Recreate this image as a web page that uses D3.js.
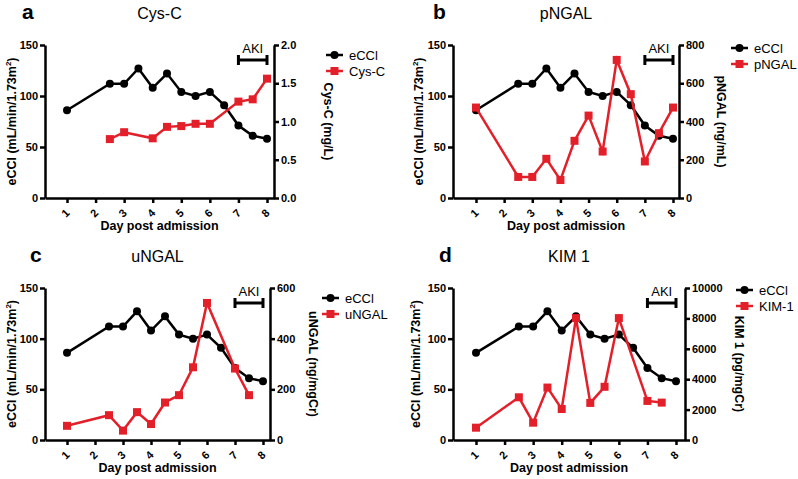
<!DOCTYPE html>
<html>
<head>
<meta charset="utf-8">
<script src="https://cdn.jsdelivr.net/npm/d3@7"></script>
<style>
  body { margin: 0; background: #fff; }
  svg { font-family: "Liberation Sans", Arial, sans-serif; }
  .axis path, .axis line { stroke: #000; stroke-width: 2.5; }
  .axis text { font-size: 11px; font-weight: bold; fill: #000; }
</style>
</head>
<body>
<div id="chart"></div>
<script>
// DATA

var ecclDays = [1, 2.5, 3, 3.5, 4, 4.5, 5, 5.5, 6, 6.5, 7, 7.5, 8]
var ecclValues = [86, 112, 112, 127, 108, 122, 104, 100, 104, 91, 71, 61, 58]

var cysDays = [2.5, 3, 4, 4.5, 5, 5.5, 6, 7, 7.5, 8]
var cysValues = [0.77, 0.86, 0.78, 0.93, 0.94, 0.97, 0.97, 1.26, 1.29, 1.56]

var pngalDays = [1, 2.5, 3, 3.5, 4, 4.5, 5, 5.5, 6, 6.5, 7, 7.5, 8]
var pngalValues = [473, 110, 110, 205, 94, 299, 431, 243, 722, 543, 191, 339, 473]

var ungalDays = [1, 2.5, 3, 3.5, 4, 4.5, 5, 5.5, 6, 7, 7.5]
var ungalValues = [56, 98, 37, 110, 63, 148, 177, 287, 541, 282, 177]

var kimDays = [1, 2.5, 3, 3.5, 4, 4.5, 5, 5.5, 6, 7, 7.5]
var kimValues = [810, 2810, 1140, 3450, 2040, 8020, 2440, 3500, 8020, 2570, 2460]

var dayTicks = [1, 2, 3, 4, 5, 6, 7, 8]
var ecclTicks = [0, 50, 100, 150]
var akiRange = [7, 8]

var panels = [
    {letter: "a", title: "Cys-C", name: "Cys-C", label: "Cys-C (mg/L)",
     days: cysDays, values: cysValues, max: 2, ticks: [0, 0.5, 1, 1.5, 2], fmt: ".1f",
     left: 45, right: 274, d1: 67, d8: 267, top: 45, bottom: 198,
     letterX: 22, rLabelX: 324, lLabelX: 16, legX: 326, legY: 55},
    {letter: "b", title: "pNGAL", name: "pNGAL", label: "pNGAL (ng/mL)",
     days: pngalDays, values: pngalValues, max: 800, ticks: [0, 200, 400, 600, 800], fmt: "d",
     left: 453, right: 679, d1: 476, d8: 673, top: 45, bottom: 198,
     letterX: 433, rLabelX: 717, lLabelX: 423, legX: 731, legY: 48},
    {letter: "c", title: "uNGAL", name: "uNGAL", label: "uNGAL (ng/mgCr)",
     days: ungalDays, values: ungalValues, max: 600, ticks: [0, 200, 400, 600], fmt: "d",
     left: 45, right: 270, d1: 67, d8: 263, top: 288, bottom: 440,
     letterX: 30, rLabelX: 309, lLabelX: 16, legX: 322, legY: 298},
    {letter: "d", title: "KIM 1", name: "KIM-1", label: "KIM 1 (pg/mgCr)",
     days: kimDays, values: kimValues, max: 10000, ticks: [0, 2000, 4000, 6000, 8000, 10000], fmt: "d",
     left: 453, right: 685, d1: 476, d8: 676, top: 288, bottom: 440,
     letterX: 439, rLabelX: 735, lLabelX: 420, legX: 736, legY: 290}
]

var red = "#e3202a"

var svg = d3.select("#chart").append("svg")
    .attr("width", 798)
    .attr("height", 479)

panels.forEach(p => {
    var g = svg.append("g")

    // x scale: days 1 and 8 fall at d1 / d8, axis runs from left to right
    var perDay = (p.d8 - p.d1) / 7
    var xScale = d3.scaleLinear()
        .domain([1 - (p.d1 - p.left) / perDay, 8 + (p.right - p.d8) / perDay])
        .range([p.left, p.right])
    var yLeft = d3.scaleLinear().domain([0, 150]).range([p.bottom, p.top])
    var yRight = d3.scaleLinear().domain([0, p.max]).range([p.bottom, p.top])

    var xAxis = g.append("g")
        .attr("class", "axis")
        .attr("transform", `translate(0,${p.bottom})`)
        .call(d3.axisBottom(xScale).tickValues(dayTicks).tickSize(5).tickSizeOuter(0))
    xAxis.selectAll("text")
        .attr("x", 0).attr("y", 0)
        .attr("dy", "0.35em")
        .attr("text-anchor", "middle")
        .attr("transform", "translate(-2,15) rotate(-45)")

    g.append("g")
        .attr("class", "axis")
        .attr("transform", `translate(${p.left},0)`)
        .call(d3.axisLeft(yLeft).tickValues(ecclTicks).tickSize(5).tickSizeOuter(0).tickPadding(2))

    g.append("g")
        .attr("class", "axis")
        .attr("transform", `translate(${p.right},0)`)
        .call(d3.axisRight(yRight).tickValues(p.ticks).tickFormat(d3.format(p.fmt)).tickSize(5).tickSizeOuter(0).tickPadding(2))

    // titles and labels
    g.append("text")
        .attr("x", p.letterX).attr("y", p.top - 26)
        .style("font-size", "21px").style("font-weight", "bold")
        .text(p.letter)

    g.append("text")
        .attr("x", (p.left + p.right) / 2).attr("y", p.top - 26)
        .attr("text-anchor", "middle")
        .style("font-size", "16px")
        .text(p.title)

    g.append("text")
        .attr("x", (p.left + p.right) / 2).attr("y", p.bottom + 32)
        .attr("text-anchor", "middle")
        .style("font-size", "12.5px").style("font-weight", "bold")
        .text("Day post admission")

    var yl = g.append("text")
        .attr("transform", `translate(${p.lLabelX},${(p.top + p.bottom) / 2}) rotate(-90)`)
        .attr("text-anchor", "middle")
        .style("font-size", "12.5px").style("font-weight", "bold")
    yl.append("tspan").text("eCCl (mL/min/1.73m")
    yl.append("tspan").attr("dy", -5).style("font-size", "8px").text("2")
    yl.append("tspan").attr("dy", 5).text(")")

    g.append("text")
        .attr("transform", `translate(${p.rLabelX},${(p.top + p.bottom) / 2}) rotate(90)`)
        .attr("text-anchor", "middle")
        .style("font-size", "12.5px").style("font-weight", "bold")
        .text(p.label)

    // AKI bar
    var akiY = p.top + 15
    var ax0 = xScale(akiRange[0]), ax1 = xScale(akiRange[1])
    g.append("line").attr("x1", ax0).attr("x2", ax1).attr("y1", akiY).attr("y2", akiY)
        .attr("stroke", "#000").attr("stroke-width", 3)
    ;[ax0, ax1].forEach(x => {
        g.append("line").attr("x1", x).attr("x2", x).attr("y1", akiY - 5).attr("y2", akiY + 5)
            .attr("stroke", "#000").attr("stroke-width", 3)
    })
    g.append("text")
        .attr("x", (ax0 + ax1) / 2).attr("y", akiY - 7)
        .attr("text-anchor", "middle")
        .style("font-size", "13px")
        .text("AKI")

    // eCCl series
    var line = d3.line()
    var ecclPts = ecclDays.map((d, i) => [xScale(d), yLeft(ecclValues[i])])
    g.append("path").attr("d", line(ecclPts))
        .attr("fill", "none").attr("stroke", "#000").attr("stroke-width", 2.5)
    g.selectAll("circle.eccl").data(ecclPts).enter().append("circle")
        .attr("class", "eccl")
        .attr("cx", d => d[0]).attr("cy", d => d[1]).attr("r", 4)
        .attr("fill", "#000")

    // red marker series
    var redPts = p.days.map((d, i) => [xScale(d), yRight(p.values[i])])
    g.append("path").attr("d", line(redPts))
        .attr("fill", "none").attr("stroke", red).attr("stroke-width", 2.5)
    g.selectAll("rect.marker").data(redPts).enter().append("rect")
        .attr("class", "marker")
        .attr("x", d => d[0] - 4).attr("y", d => d[1] - 4)
        .attr("width", 8).attr("height", 8)
        .attr("fill", red)

    // legend
    var leg = g.append("g").attr("transform", `translate(${p.legX},${p.legY})`)
    leg.append("line").attr("x1", 0).attr("x2", 17).attr("y1", 0).attr("y2", 0)
        .attr("stroke", "#000").attr("stroke-width", 2.5)
    leg.append("circle").attr("cx", 8.5).attr("cy", 0).attr("r", 4).attr("fill", "#000")
    leg.append("text").attr("x", 23).attr("y", 5).style("font-size", "13px").text("eCCl")
    leg.append("line").attr("x1", 0).attr("x2", 17).attr("y1", 16).attr("y2", 16)
        .attr("stroke", red).attr("stroke-width", 2.5)
    leg.append("rect").attr("x", 4.5).attr("y", 12).attr("width", 8).attr("height", 8).attr("fill", red)
    leg.append("text").attr("x", 23).attr("y", 21).style("font-size", "13px").text(p.name)
})
</script>
</body>
</html>
